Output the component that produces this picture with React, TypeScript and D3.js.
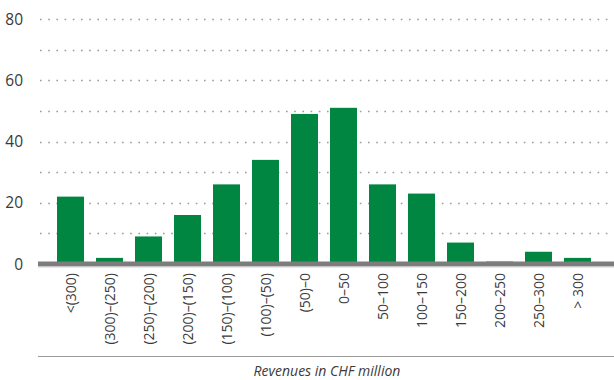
import React from "react";
import * as d3 from "d3";

const categories = ["<(300)", "(300)–(250)", "(250)–(200)", "(200)–(150)", "(150)–(100)", "(100)–(50)", "(50)–0", "0–50", "50–100", "100–150", "150–200", "200–250", "250–300", "> 300"];
const values = [22, 2, 9, 16, 26, 34, 49, 51, 26, 23, 7, 1, 4, 2];
const yTickLabels = [0, 20, 40, 60, 80];
const gridValues = [10, 20, 30, 40, 50, 60, 70, 80];
const xTitle = "Revenues in CHF million";

const W = 614;
const H = 380;
const FONT = "'Open Sans', 'Noto Sans', sans-serif";

export default function App() {
  const x = d3
    .scaleBand<string>()
    .domain(categories)
    .range([51, 597])
    .paddingInner(12 / 39)
    .paddingOuter(6 / 39);
  const y = d3.scaleLinear().domain([0, 80]).range([264, 19]);

  return (
    <svg
      width={W}
      height={H}
      style={{ position: "absolute", left: 0, top: 0, background: "#fff" }}
      fontFamily={FONT}
    >
      {gridValues.map((v) => (
        <line
          key={"g" + v}
          x1={40}
          x2={614}
          y1={Math.round(y(v)) + 0.5}
          y2={Math.round(y(v)) + 0.5}
          stroke="#9a9a9a"
          strokeWidth={1.6}
          strokeDasharray="1.6 6.6"
        />
      ))}
      {yTickLabels.map((v) => (
        <text
          key={"t" + v}
          x={23}
          y={y(v)}
          dy="0.36em"
          textAnchor="end"
          fontSize={15.5}
          fill="#3a3a3a"
        >
          {v}
        </text>
      ))}
      {categories.map((c, i) => (
        <rect
          key={"b" + c}
          x={x(c)}
          width={x.bandwidth()}
          y={y(values[i])}
          height={y(0) - y(values[i])}
          fill={values[i] <= 1 ? "#a9c2b2" : "#008640"}
        />
      ))}
      <rect x={38} y={261.5} width={W - 38} height={5} fill="#7d7d7d" />
      <line x1={38} x2={614} y1={267} y2={267} stroke="#d0d0d0" strokeWidth={1} />
      {categories.map((c) => {
        const cx = (x(c) as number) + x.bandwidth() / 2;
        return (
          <text
            key={"l" + c}
            transform={`translate(${cx},273) rotate(-90)`}
            textAnchor="end"
            dy="0.36em"
            fontSize={14}
            fill="#3a3a3a"
          >
            {c}
          </text>
        );
      })}
      <line x1={38} x2={614} y1={356.5} y2={356.5} stroke="#9a9a9a" strokeWidth={1} />
      <text
        x={327}
        y={376}
        textAnchor="middle"
        fontSize={14}
        fontStyle="italic"
        fill="#3a3a3a"
      >
        {xTitle}
      </text>
    </svg>
  );
}
